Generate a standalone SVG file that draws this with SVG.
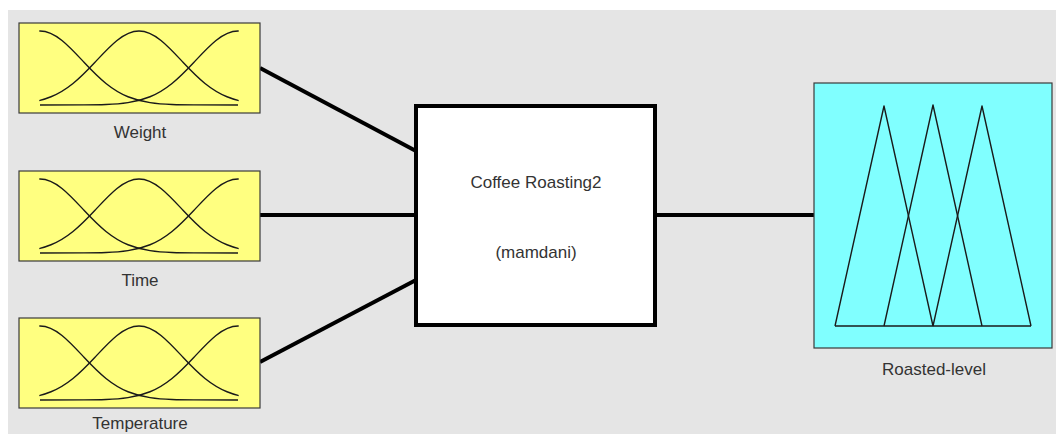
<svg xmlns="http://www.w3.org/2000/svg" xmlns:xlink="http://www.w3.org/1999/xlink" width="1056" height="434" viewBox="0 0 1056 434">
  <style>
    .panel { fill: #e5e5e5; }
    .input-box { fill: #ffff80; stroke: #3a3a3a; stroke-width: 1.2; }
    .output-box { fill: #80ffff; stroke: #3a3a3a; stroke-width: 1.2; }
    .system-box { fill: #ffffff; stroke: #000000; stroke-width: 4; }
    .mf { fill: none; stroke: #1a1a1a; stroke-width: 1.4; stroke-linejoin: round; }
    .link { fill: none; stroke: #000000; stroke-width: 4; }
    .label { font-family: "Liberation Sans", Arial, sans-serif; font-size: 17px; fill: #333333; text-anchor: middle; }
  </style>
  <defs>
    <!-- Gaussian membership function, centre at x=0, baseline y=0, peak height 74 -->
    <path id="gauss" class="mf" d="M -198,0 L -154,-0.09 C -146.67,-0.15 -139.33,-0.24 -132,-0.53 C -124.67,-0.82 -117.33,-1.30 -110,-2.40 C -102.67,-3.50 -95.33,-5.22 -88,-8.24 C -80.67,-11.26 -73.33,-15.62 -66,-21.53 C -58.67,-27.44 -51.33,-34.93 -44,-42.75 C -36.67,-50.57 -29.33,-58.61 -22,-64.51 C -14.67,-70.41 -7.33,-74 0,-74 C 7.33,-74 14.67,-70.41 22,-64.51 C 29.33,-58.61 36.67,-50.57 44,-42.75 C 51.33,-34.93 58.67,-27.44 66,-21.53 C 73.33,-15.62 80.67,-11.26 88,-8.24 C 95.33,-5.22 102.67,-3.50 110,-2.40 C 117.33,-1.30 124.67,-0.82 132,-0.53 C 139.33,-0.24 146.67,-0.15 154,-0.09 L 198,0"/>
    <!-- universe of discourse of each input variable, in node-local coordinates -->
    <clipPath id="mfRange" clipPathUnits="userSpaceOnUse">
      <rect x="20.3" y="0" width="199.4" height="90"/>
    </clipPath>
    <!-- three gaussian sets spread over the input range -->
    <g id="gaussSet">
      <g clip-path="url(#mfRange)">
        <use xlink:href="#gauss" href="#gauss" transform="translate(21,82)"/>
        <use xlink:href="#gauss" href="#gauss" transform="translate(120,82)"/>
        <use xlink:href="#gauss" href="#gauss" transform="translate(219,82)"/>
      </g>
    </g>
  </defs>

  <!-- figure background -->
  <rect class="panel" x="8" y="10" width="1048" height="424"/>

  <!-- connectors -->
  <g id="connectors">
    <line class="link" x1="260" y1="68" x2="416" y2="151"/>
    <line class="link" x1="260" y1="215" x2="416" y2="215"/>
    <line class="link" x1="260" y1="362" x2="416" y2="280"/>
    <line class="link" x1="655" y1="215" x2="814" y2="215"/>
  </g>

  <!-- input variables -->
  <g id="input-weight" transform="translate(19,23)">
    <rect class="input-box" x="0" y="0" width="241" height="90"/>
    <use xlink:href="#gaussSet" href="#gaussSet"/>
    <text class="label" x="121" y="115">Weight</text>
  </g>

  <g id="input-time" transform="translate(19,171)">
    <rect class="input-box" x="0" y="0" width="241" height="90"/>
    <use xlink:href="#gaussSet" href="#gaussSet"/>
    <text class="label" x="121" y="115">Time</text>
  </g>

  <g id="input-temperature" transform="translate(19,318)">
    <rect class="input-box" x="0" y="0" width="241" height="90"/>
    <use xlink:href="#gaussSet" href="#gaussSet"/>
    <text class="label" x="121" y="111">Temperature</text>
  </g>

  <!-- inference system -->
  <g id="system">
    <rect class="system-box" x="416" y="106" width="239" height="219"/>
    <text class="label" x="536" y="188">Coffee Roasting2</text>
    <text class="label" x="536" y="258">(mamdani)</text>
  </g>

  <!-- output variable with triangular sets -->
  <g id="output-roasted-level">
    <rect class="output-box" x="814" y="83" width="238" height="265"/>
    <polyline class="mf" points="835,326 884,106 933,326"/>
    <polyline class="mf" points="884,326 933,105 982,326"/>
    <polyline class="mf" points="933,326 982,106 1031,326"/>
    <line class="mf" x1="835" y1="326" x2="1031" y2="326"/>
    <text class="label" x="934" y="375">Roasted-level</text>
  </g>
</svg>
